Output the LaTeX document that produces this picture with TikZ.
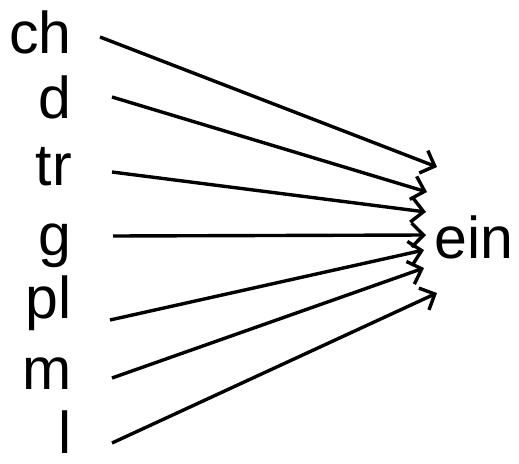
\documentclass[tikz,border=0pt]{standalone}
\usepackage{fontspec}
\setmainfont{Liberation Sans}
\usetikzlibrary{arrows.meta}
\begin{document}
\begin{tikzpicture}[x=1pt,y=-1pt,
  onset/.style={anchor=base east,inner sep=0pt,font=\fontsize{59}{61}\selectfont},
  link/.style={line width=3.4pt,-{Straight Barb[length=12pt,width=24pt,line width=3.4pt]}}]
\useasboundingbox (0,0) rectangle (519,463);
\node[onset,anchor=base west] (ein) at (434,258) {ein};
\foreach \name/\ly/\sx/\sy/\ex/\ey in {ch/53/100/37/437/167, d/118/112/97/427/192,
    tr/185/112/172/426/212, g/255/113/236/426/235, pl/318/110/320/424/250,
    m/389/112/378/424/268, l/453/112/443/437/293}{
  \node[onset] (\name) at (72,\ly) {\name};
  \coordinate (s-\name) at (\sx,\sy);
  \coordinate (e-\name) at (\ex,\ey);
  \draw[link] (s-\name) -- (e-\name);
}
\end{tikzpicture}
\end{document}
